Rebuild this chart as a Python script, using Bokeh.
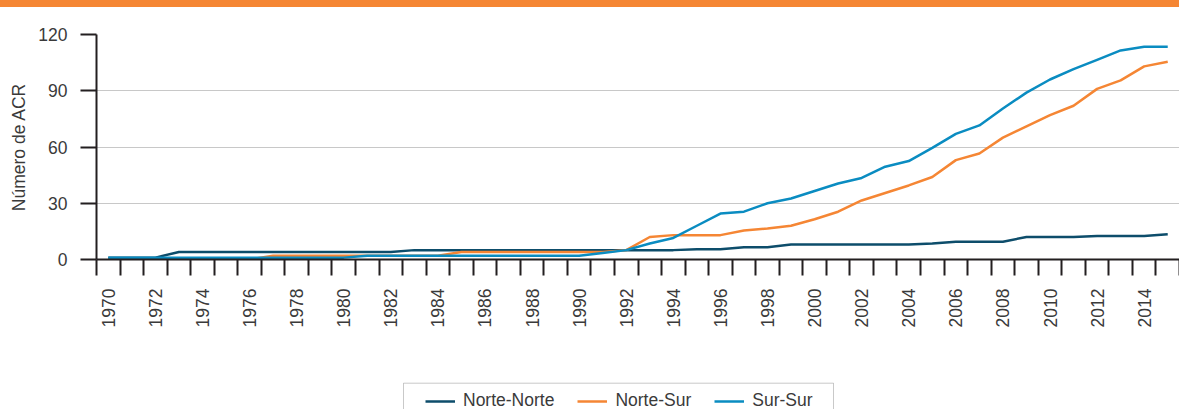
import math
from bokeh.plotting import figure
from bokeh.layouts import column
from bokeh.models import FixedTicker, Legend, LegendItem, Range1d, Div, BoxAnnotation
from bokeh.embed import file_html
from bokeh.resources import INLINE

# ---- data ----
years = list(range(1970, 2016))
norte_norte = [1, 1, 1,
               4, 4, 4, 4, 4, 4, 4, 4, 4, 4,
               5, 5, 5, 5, 5, 5, 5, 5, 5, 5, 5, 5,
               5.5, 5.5, 6.5, 6.5,
               8, 8, 8, 8, 8, 8,
               8.5, 9.5, 9.5, 9.5,
               12, 12, 12, 12.5, 12.5, 12.5, 13.5]
norte_sur = [0, 0, 0, 0, 0, 0, 0,
             2, 2, 2, 2, 2, 2, 2, 2,
             4, 4, 4, 4, 4, 4, 4, 5,
             12, 13, 13, 13, 15.5, 16.5, 18, 21.5, 25.5, 31.5, 35.5, 39.5,
             44, 53, 56.5, 65, 71, 77, 82, 91, 95.5, 103, 105.5]
sur_sur = [1, 1, 1, 1, 1, 1, 1, 1, 1, 1, 1,
           2, 2, 2, 2, 2, 2, 2, 2, 2, 2,
           3.5, 5, 8.5, 11.5, 18, 24.5, 25.5, 30, 32.5, 36.5, 40.5, 43.5,
           49.5, 52.5, 59.5, 67, 71.5, 80.5, 89, 96, 101.5, 106.5, 111.5,
           113.5, 113.5]
series_names = ["Norte-Norte", "Norte-Sur", "Sur-Sur"]
y_ticks = [0, 30, 60, 90, 120]
x_label_years = list(range(1970, 2016, 2))
y_title = "Número de ACR"

colors = ["#0d4d6b", "#f58634", "#0a8cc1"]
FONT = "Liberation Sans"
TXT = "#3a3a3a"
AX = "#231f20"

band = Div(text="", width=1179, height=7, margin=0,
           styles={"background-color": "#f58634"})

p = figure(width=1179, height=365, output_backend="svg", toolbar_location=None,
           x_range=Range1d(1969.5, 2015.5), y_range=Range1d(0, 120),
           min_border_left=96, min_border_right=0, min_border_top=27,
           min_border_bottom=113, margin=0)
p.outline_line_color = None
p.background_fill_color = "white"

# grid
p.xgrid.visible = False
p.ygrid.ticker = FixedTicker(ticks=y_ticks)
p.ygrid.grid_line_color = "#c8c8c8"
p.ygrid.grid_line_width = 1.2

# x axis
xa = p.xaxis[0]
xa.ticker = FixedTicker(ticks=x_label_years,
                        minor_ticks=[y - 0.5 for y in range(1970, 2017)])
xa.major_tick_out = 0
xa.major_tick_in = 0
xa.minor_tick_out = 16
xa.minor_tick_in = 0
xa.minor_tick_line_width = 2
xa.minor_tick_line_color = AX
xa.axis_line_width = 2
xa.axis_line_color = AX
xa.major_label_orientation = math.pi / 2
xa.major_label_standoff = 13
xa.major_label_text_font = FONT
xa.major_label_text_font_size = "17.5px"
xa.major_label_text_color = TXT

# y axis
ya = p.yaxis[0]
ya.ticker = FixedTicker(ticks=y_ticks)
ya.major_tick_out = 16
ya.major_tick_in = 0
ya.minor_tick_out = 0
ya.minor_tick_in = 0
ya.major_tick_line_width = 2
ya.major_tick_line_color = AX
ya.axis_line_width = 2
ya.axis_line_color = AX
ya.major_label_standoff = 13
ya.major_label_text_font = FONT
ya.major_label_text_font_size = "17.5px"
ya.major_label_text_color = TXT
ya.axis_label = y_title
ya.axis_label_text_font = FONT
ya.axis_label_text_font_size = "17.5px"
ya.axis_label_text_font_style = "normal"
ya.axis_label_text_color = TXT
ya.axis_label_standoff = 6

# lines
for vals, c in zip([norte_norte, norte_sur, sur_sur], colors):
    p.line(years, vals, line_color=c, line_width=2.5, line_join="round")

# ---- legend strip (separate figure so the legend is not clipped) ----
# the column aligns this strip's frame with the chart frame (left edge 96 px),
# so its x range is given in page pixels from 96 to 1179
lg = figure(width=1179, height=37, output_backend="svg", toolbar_location=None,
            x_range=Range1d(96, 1179), y_range=Range1d(37, 0),
            x_axis_location=None, y_axis_location=None,
            min_border_left=96, min_border_right=0, min_border_top=0,
            min_border_bottom=0, margin=0)
lg.grid.visible = False
lg.outline_line_color = None
# key samples kept outside the visible range; only used for legend glyphs
key_renderers = [lg.line([-200, -100], [100, 100], line_color=c, line_width=2.5)
                 for c in colors]

lg.add_layout(BoxAnnotation(left=403, right=833, top=10.7, bottom=80,
                            fill_alpha=0, line_color="#4d4d4d", line_width=1))
legend = Legend(items=[LegendItem(label=n, renderers=[r])
                       for n, r in zip(series_names, key_renderers)],
                orientation="horizontal", location=(321, -10),
                border_line_alpha=0, background_fill_alpha=0,
                padding=8, spacing=23, glyph_width=30, glyph_height=20,
                label_height=20, label_standoff=8, margin=0,
                label_text_font=FONT, label_text_font_size="17.5px",
                label_text_color=TXT)
lg.add_layout(legend, "center")

layout = column(band, p, lg, spacing=0, margin=0)
open("out.html", "w").write(file_html(layout, INLINE))
